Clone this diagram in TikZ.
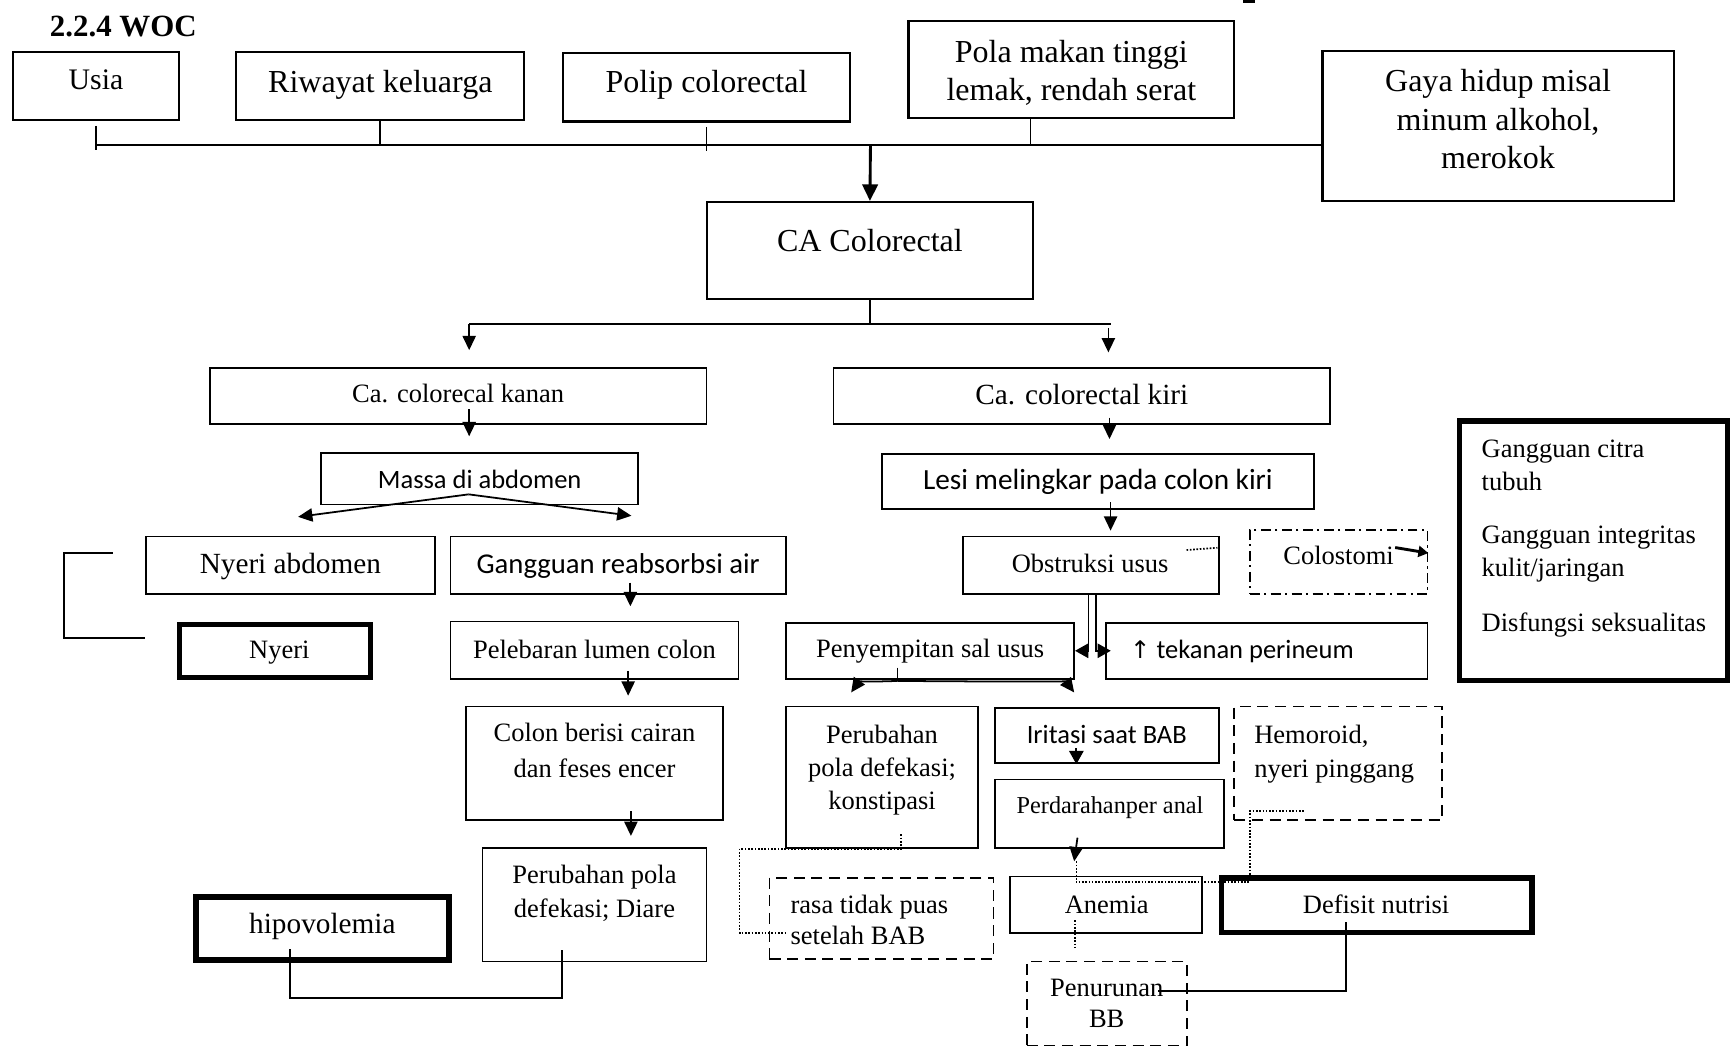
\documentclass[tikz,border=0pt]{standalone}
\usepackage{fontspec}
\setmainfont{Liberation Serif}
\newfontfamily\carl{Carlito}
\newfontfamily\djv{DejaVu Sans}
\usetikzlibrary{calc,arrows.meta}
\newcommand\fsz[2]{\fontsize{#1}{#2}\selectfont}
\tikzset{
  box/.style 2 args={draw, line width=1.6pt, inner sep=0pt, minimum width=#1pt, minimum height=#2pt},
  topbox/.style={line width=2pt},
  thickbox/.style={line width=5pt},
  dashbox/.style={dash pattern=on 10pt off 6pt},
  dashdotbox/.style={dash pattern=on 9pt off 4pt on 2pt off 4pt},
  dotl/.style={line width=1.5pt, dash pattern=on 1.5pt off 1.5pt},
  tx/.style={inner sep=0pt, text height=15pt, text depth=0pt},
  txL/.style={inner sep=0pt, text height=19pt, text depth=0pt},
  ml/.style={inner sep=0pt, align=center, anchor=north},
  mll/.style={inner sep=0pt, align=left, anchor=north west},
  conn/.style={line width=1.6pt},
  arr/.style={line width=1.6pt, -{Triangle[length=13pt,width=12pt]}},
  bigarr/.style={line width=2.6pt, -{Triangle[length=15pt,width=14pt]}},
  smallarr/.style={line width=1.6pt, -{Triangle[length=12pt,width=13pt]}},
}
\begin{document}
\begin{tikzpicture}[x=1pt,y=-1pt]
\useasboundingbox (0,0) rectangle (1568,950);
\fill[white] (0,0) rectangle (1568,950);

% title
\node[txL, anchor=west, font={\bfseries\fsz{28}{34}}] (title) at (45,24) {2.2.4 WOC};
\fill (1126,0) rectangle (1137,3);

% top row
\node[box={150}{62}, topbox] (usia) at (87,78) {};
\node[txL, font={\fsz{27}{32}}] (usiat) at (87,72) {Usia};
\node[box={261}{62}, topbox] (riwayat) at (344.5,78) {};
\node[txL, font={\fsz{29}{35}}] (riwayatt) at (344.5,74) {Riwayat keluarga};
\node[box={260}{62}, topbox] (polip) at (640,79) {};
\node[txL, font={\fsz{29}{35}}] (polipt) at (640,74) {Polip colorectal};
\node[box={295}{88}, topbox] (pola) at (970.5,63) {};
\node[ml, font={\fsz{29}{35}}] (polat) at (970.5,36) {Pola makan tinggi\\lemak, rendah serat};
\node[box={318}{136}, topbox] (gaya) at (1357,114) {};
\node[ml, font={\fsz{29}{34.5}}] (gayat) at (1357,63) {Gaya hidup misal\\minum alkohol,\\merokok};

\node[box={295}{88}, topbox] (ca) at (788,227) {};
\node[txL, font={\fsz{29}{35}}] (cat) at (788,218) {CA Colorectal};

% bus
\coordinate (bus1) at (87,131);
\coordinate (busA) at (788.5,131);
\draw[conn, line width=2pt] (bus1) -- (bus1 -| gaya.west);
\draw[conn] ([yshift=-4pt]usia.south) -- ++(0,22);
\draw[conn] (riwayat.south) -- (riwayat.south |- bus1);
\draw[conn] ([yshift=-4pt]polip.south) -- ++(0,22);
\draw[conn] ($(pola.south)+(-37,0)$) -- ($(pola.south |- bus1)+(-37,0)$);
\draw[bigarr] (busA) -- (ca.north);

% second level
\node[box={450}{51}] (kanan) at (415,358.5) {};
\node[tx, font={\fsz{24}{29}}] (kanant) at (415,357) {Ca. colorecal kanan};
\node[box={450}{51}] (kiri) at (980,358.5) {};
\node[tx, font={\fsz{26.5}{32}}] (kirit) at (980,359) {Ca. colorectal kiri};

\coordinate (brL) at (425,293.5);
\coordinate (brR) at (1006,293.5);
\draw[conn] (ca.south) -- (ca.south |- brL);
\draw[conn, line width=2pt] (brL) -- (brR);
\draw[arr] (brL) -- ($(brL |- kanan.north)+(0,-15)$);
\draw[arr] ($(brR)+(-2,4)$) -- ($(brR |- kiri.north)+(-2,-13)$);

% left branch
\node[box={287}{47}] (massa) at (434.5,433.5) {};
\node[tx, font={\carl\fsz{24}{29}}] (massat) at (434.5,435) {Massa di abdomen};
\draw[arr] ($(kanan.south)+(10,-14)$) -- ($(massa.north)+(-9.5,-14)$);

\node[box={262}{52}] (nyeriabd) at (263,512) {};
\node[tx, font={\fsz{26.5}{32}}] (nyeriabdt) at (263,512) {Nyeri abdomen};
\node[box={304}{52}] (gangreab) at (560,512) {};
\node[tx, font={\carl\fsz{26}{31}}] (gangreabt) at (560,512) {Gangguan reabsorbsi air};
\draw[arr] ($(massa.south)+(-10,-10)$) -- ($(nyeriabd.north)+(7,-17)$);
\draw[arr] ($(massa.south)+(-10,-10)$) -- ($(gangreab.north)+(12,-18)$);

\node[box={173}{48}, thickbox] (nyeri) at (249,589.5) {};
\node[tx, font={\fsz{24}{29}}] (nyerit) at (253,589) {Nyeri};
\draw[conn] ($(nyeriabd.west)+(-29,-11)$) -- ++(-44,0) |- ($(nyeriabd.west)+(0,66)$);

\node[box={261}{52}] (pelebaran) at (538.5,589) {};
\node[tx, font={\fsz{24}{29}}] (pelebarant) at (538.5,589) {Pelebaran lumen colon};
\draw[arr] ($(gangreab.south)+(11,-11)$) -- ($(pelebaran.north)+(32.5,-13)$);

\node[box={233}{103}] (colon) at (538.5,691.5) {};
\node[ml, font={\fsz{24}{32}}] (colont) at (538.5,655) {Colon berisi cairan\\dan feses encer};
\draw[arr] ($(pelebaran.south)+(30.5,-8)$) -- ($(colon.north)+(30.5,-9)$);

\node[box={203}{103}] (diare) at (538.5,819.5) {};
\node[ml, font={\fsz{24}{31}}] (diaret) at (538.5,783) {Perubahan pola\\defekasi; Diare};
\draw[arr] ($(colon.south)+(33,-9)$) -- ($(diare.north)+(33,-10)$);

\node[box={229}{57}, thickbox] (hipo) at (292,841) {};
\node[tx, font={\fsz{26.5}{32}}] (hipot) at (292,838) {hipovolemia};
\draw[conn] ($(hipo.center)+(-29,19)$) |- ($(diare.south)+(-29.5,32)$) -- ($(diare.south)+(-29.5,-11)$);

% right branch
\node[box={391}{50}] (lesi) at (994.5,436) {};
\node[tx, font={\carl\fsz{26.5}{32}}] (lesit) at (994.5,436) {Lesi melingkar pada colon kiri};
\draw[arr] ($(kiri.south)+(25,-6.5)$) -- ($(lesi.north)+(10.5,-12.5)$);

\node[box={232}{52}] (obs) at (988,512) {};
\node[tx, font={\fsz{24}{29}}] (obst) at (987.5,511) {Obstruksi usus};
\draw[arr] ($(lesi.south)+(11.5,-7)$) -- ($(obs.north)+(18,-4.5)$);
\draw[dotl] ($(obs.north east)+(-30,13)$) -- ($(obs.north east)+(-2,11)$);

\node[box={161}{58}, dashdotbox] (colo) at (1212.5,509) {};
\node[tx, font={\fsz{24}{29}}] (colot) at (1212.5,504) {Colostomi};
\draw[line width=2.6pt, -{Triangle[length=9pt,width=10pt]}] ($(colo.east)+(-30,-13)$) -- ($(colo.east)+(0,-8)$);

\node[box={243}{235}, line width=5pt] (risk) at (1443.5,499) {};
\node[mll, font={\fsz{24}{30}}] (riskt) at (1342,398) {Gangguan citra\\tubuh\\[18pt]Gangguan integritas\\kulit/jaringan\\[20pt]Disfungsi seksualitas};

\node[box={261}{51}] (peny) at (842.5,589.5) {};
\node[tx, font={\fsz{24}{29}}] (penyt) at (842.5,588) {Penyempitan sal usus};
\node[box={291}{51}] (tek) at (1147.5,589.5) {};
\node[tx, font={\carl\fsz{24}{29}}] (tekt) at (1125,589) {{\djv\fsz{22}{29}↑} tekanan perineum};
\draw[smallarr] ($(obs.south)+(-2,0)$) |- (peny.east);
\draw[smallarr, shorten >=-5pt] ($(obs.south)+(5,0)$) |- (tek.west);

\node[box={174}{128}] (konst) at (799,704) {};
\node[ml, font={\fsz{24}{29.5}}] (konstt) at (799,657) {Perubahan\\pola defekasi;\\konstipasi};
\node[box={203}{50}] (irit) at (1002.5,666) {};
\node[tx, font={\carl\fsz{24}{29}}] (iritt) at (1002.5,666) {Iritasi saat BAB};
\coordinate (pap) at ($(peny.south)+(-29.5,1)$);
\draw[conn] ($(peny.south)+(-29.5,-11)$) -- (pap);
\draw[arr] (pap) .. controls ($(pap)+(-28,1)$) and ($(konst.north)+(-21,-22)$) .. ($(konst.north)+(-28,-12)$);
\draw[arr] (pap) .. controls ($(pap)+(130,1)$) and ($(irit.north)+(-37,-23)$) .. ($(irit.north)+(-29.5,-13)$);

\node[box={188}{103}, dashbox] (hem) at (1212,691.5) {};
\node[mll, font={\fsz{24}{30}}] (hemt) at (1136,657) {Hemoroid,\\nyeri pinggang};

\node[box={208}{62}] (perd) at (1005,737) {};
\node[tx, font={\fsz{22}{27}}] (perdt) at (1005.5,729) {Perdarahanper anal};
\draw[smallarr] ($(irit.south)+(-27.5,-14)$) -- ($(perd.north)+(-30,-13)$);

\node[box={203}{74}, dashbox] (rasa) at (798.5,832) {};
\node[mll, font={\fsz{24}{28}}] (rasat) at (716,811) {rasa tidak puas\\setelah BAB};
\draw[dotl] ($(konst.south)+(17,-13)$) |- ($(konst.south)+(-129,0)$) |- ($(rasa.west)+(17,13)$);

\node[box={174}{51}] (anemia) at (1002,819.5) {};
\node[tx, font={\fsz{24}{29}}] (anemiat) at (1002.5,820) {Anemia};
\draw[arr] ($(perd.south)+(-29,-10)$) -- ($(anemia.north)+(-29,-13)$);
\draw[dotl] ($(anemia.north)+(-27,-13)$) |- ($(anemia.north)+(130,6)$) |- ($(hem.south west)+(65,-9)$);

\node[box={281}{49}, thickbox] (defisit) at (1247,820) {};
\node[tx, font={\fsz{24}{29}}] (defisitt) at (1246.5,820) {Defisit nutrisi};

\node[box={145}{76}, dashbox] (pen) at (1002.5,909) {};
\node[ml, font={\fsz{24}{28}}] (pent) at (1002.5,887) {Penurunan\\BB};
\draw[dotl] ($(anemia.south)+(-28,-12)$) -- ($(pen.north)+(-28.5,-12)$);
\draw[conn] ($(defisit.south)+(-28,-11.5)$) |- ($(pen.center)+(46.5,-11)$);
\end{tikzpicture}
\end{document}
